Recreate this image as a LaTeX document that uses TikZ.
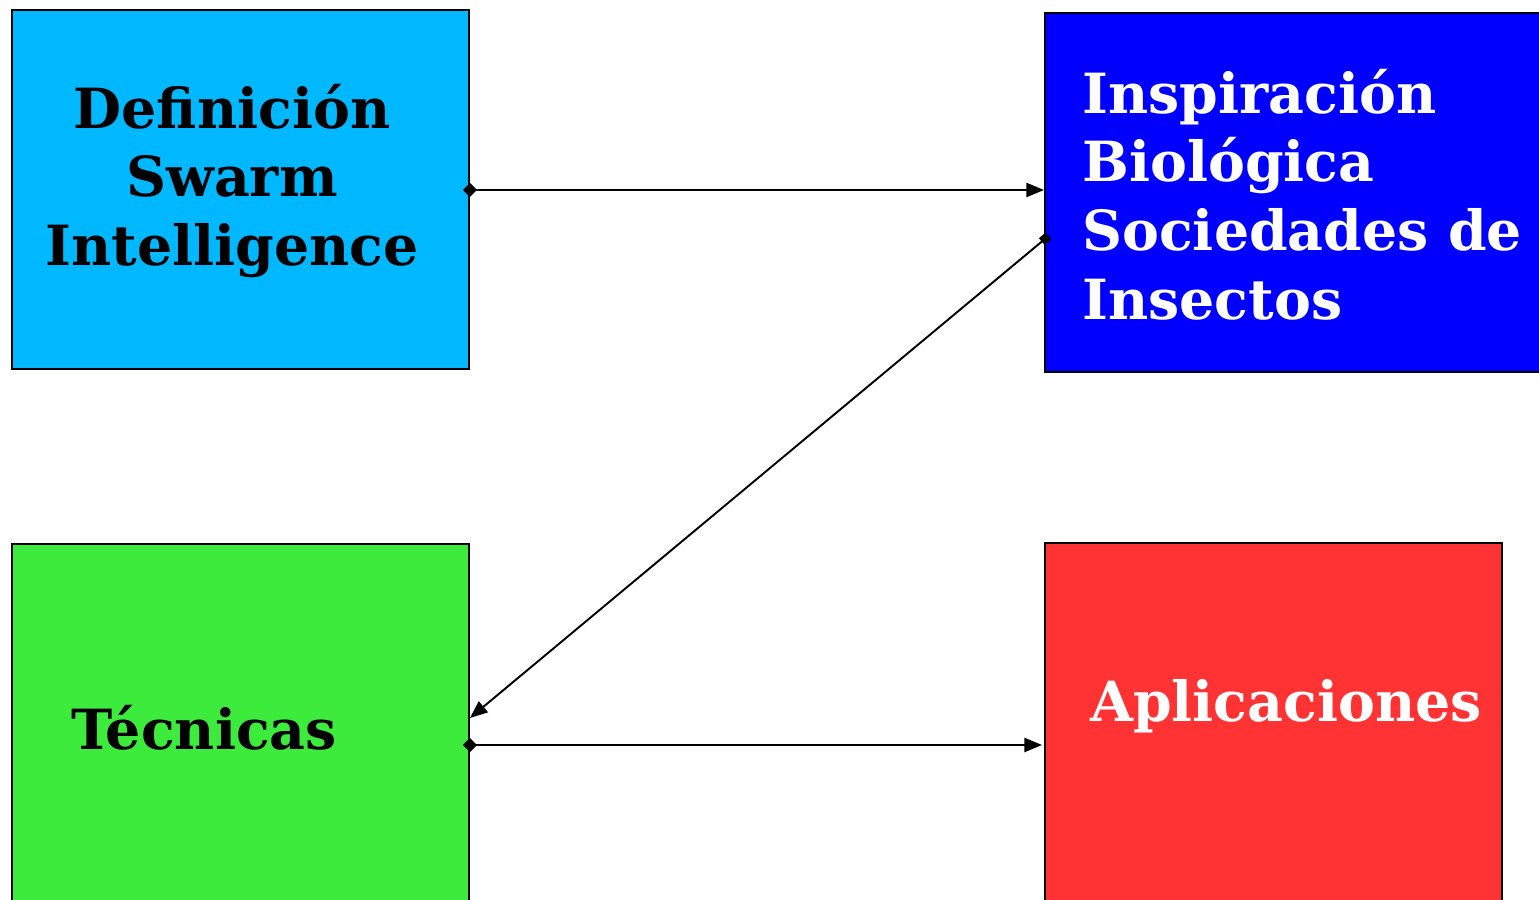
\documentclass[tikz,border=0pt]{standalone}
\usepackage{fontspec}
\setmainfont{DejaVu Serif}
\usetikzlibrary{arrows.meta, positioning}

\definecolor{cielo}{RGB}{0,184,255}
\definecolor{azul}{RGB}{0,0,255}
\definecolor{verde}{RGB}{61,235,61}
\definecolor{rojo}{RGB}{255,51,51}

\tikzset{
    caja/.style={draw=black, line width=1.1pt, rectangle, inner sep=0pt,
        minimum width=9.14cm, minimum height=7.18cm, anchor=north west},
    texto/.style={inner sep=0pt, font=\bfseries\fontsize{31.5}{39}\selectfont},
    flecha/.style={line width=1.1pt, {Diamond[length=8pt,width=8pt]}-{Triangle[length=10pt,width=8pt]}},
    flechasq/.style={line width=1.1pt, {Square[length=5pt,width=5pt]}-{Triangle[length=10pt,width=8pt]}}
}

\begin{document}
\begin{tikzpicture}
    \useasboundingbox (0,0) rectangle (30.78,17.98);
    \clip (0,0) rectangle (30.78,17.98);

    % cajas
    \node[caja, fill=cielo] (def) at (0.22,17.80) {};
    \node[caja, fill=azul, minimum width=10.2cm] (insp) at (20.88,17.74) {};
    \node[caja, fill=verde] (tec) at (0.22,7.12) {};
    \node[caja, fill=rojo] (apl) at (20.88,7.14) {};

    % textos
    \node[texto, align=center] (defT) at (4.64,14.36) {Definición\\Swarm\\Intelligence};
    \node[texto, align=left, white, anchor=west] (inspT) at (21.64,14.09) {Inspiración\\Biológica\\Sociedades de\\Insectos};
    \node[texto] (tecT) at (4.08,3.42) {Técnicas};
    \node[texto, white] (aplT) at (25.72,3.86) {Aplicaciones};

    % conexiones
    \coordinate (a1) at ([xshift=-0.14cm]def.east |- 0,14.18);
    \coordinate (a2) at (insp.west |- 0,14.18);
    \draw[flecha] (a1) -- (a2);

    \coordinate (b1) at ([xshift=0.09cm]insp.west |- 0,13.26);
    \coordinate (b2) at (tec.east |- 0,3.62);
    \draw[flechasq] (b1) -- (b2);

    \coordinate (c1) at ([xshift=-0.14cm]tec.east |- 0,3.08);
    \coordinate (c2) at ([xshift=-0.04cm]apl.west |- 0,3.08);
    \draw[flecha] (c1) -- (c2);
\end{tikzpicture}
\end{document}
